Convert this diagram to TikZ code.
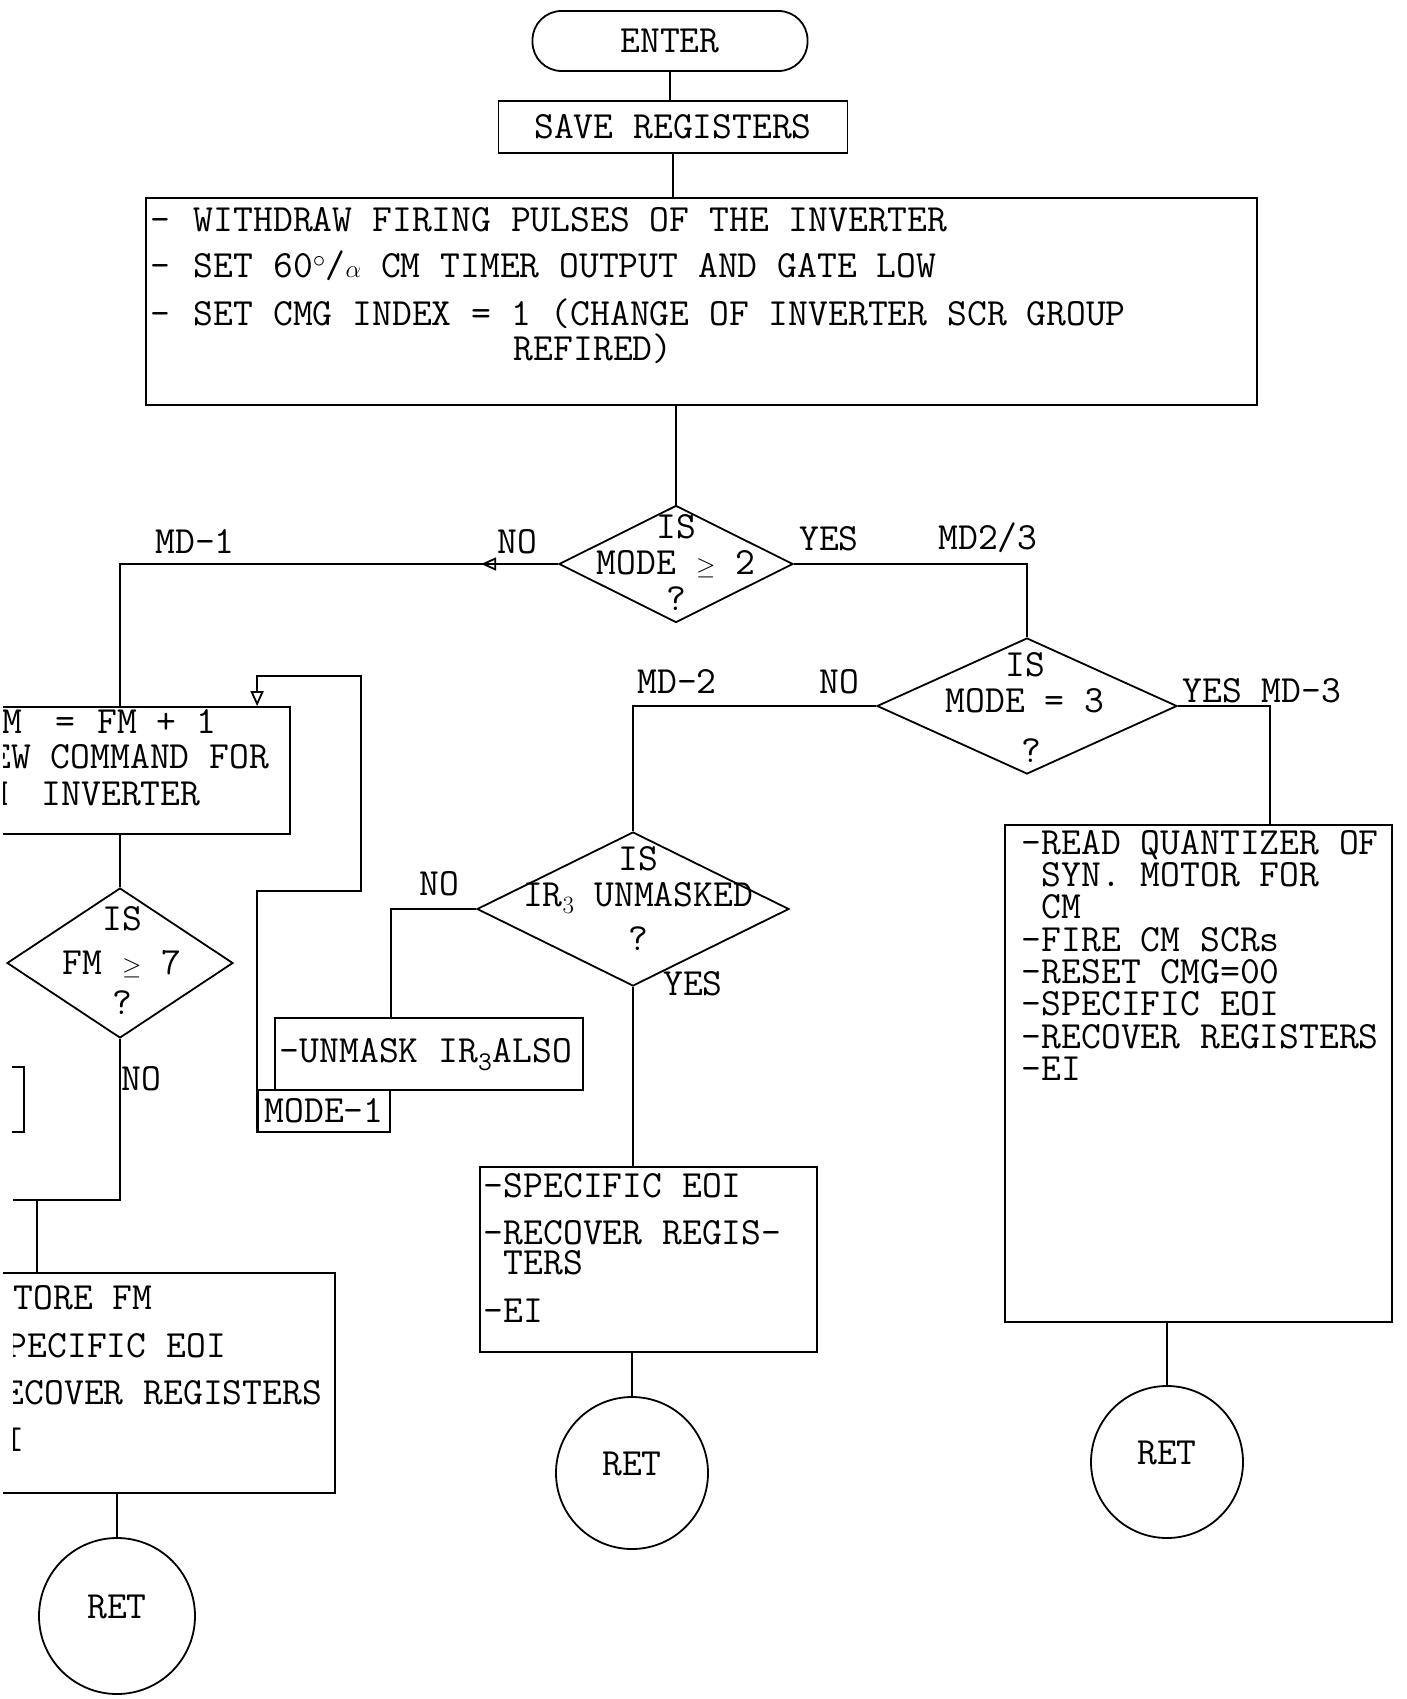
\documentclass[tikz,border=0pt]{standalone}
\usetikzlibrary{arrows.meta, calc, positioning, shapes.geometric, decorations.markings}
\newcommand{\twfont}{\ttfamily\fontsize{38.5}{36}\selectfont}
\tikzset{
  procbox/.style={draw, rectangle, inner sep=0pt, font=\twfont},
  decision/.style={draw, diamond, inner sep=0pt},
  retnode/.style={draw, circle, inner sep=0pt, minimum size=152pt, text depth=18pt, font=\twfont},
  tw/.style={font=\twfont, inner sep=0pt, anchor=base west},
  lbl/.style={font=\twfont, inner sep=0pt, align=center},
  backarrow/.style={postaction={decorate},
    decoration={markings, mark=at position #1 with {\arrow{>}}}},
}

\begin{document}
\begin{tikzpicture}[x=1pt, y=-1pt, line width=1.8pt, >={Triangle[open, length=15pt, width=13pt]}]
  \useasboundingbox (0,0) rectangle (1407,1699);
  \clip (3,0) rectangle (1407,1699);

  % entry and common part
  \node[procbox, rounded corners=29pt, minimum width=275pt, minimum height=60pt] (enter) at (670,41) {ENTER};
  \node[procbox, minimum width=349pt, minimum height=52pt] (save) at (673,127) {SAVE REGISTERS};
  \node[procbox, minimum width=1111pt, minimum height=207pt] (inhibit) at (701.5,301.5) {};
  \foreach \y/\txt [count=\i] in {231/{WITHDRAW FIRING PULSES OF THE INVERTER},
                                  277/{SET 60$^{\circ}$/$\alpha$ CM TIMER OUTPUT AND GATE LOW},
                                  325/{SET CMG INDEX = 1 (CHANGE OF INVERTER SCR GROUP}} {
    \node[tw] (dash\i) at (150,\y) {-};
    \node[tw] (top\i) at (193,\y) {\txt};
  }
  \node[tw] (top4) at (513,360) {REFIRED)};

  % decisions
  \node[decision, minimum width=234pt, minimum height=117pt] (mode2) at (676,564) {};
  \node[lbl] (mode2txt) at (676,563) {IS\\MODE $\geq$ 2\\?};
  \node[decision, minimum width=300pt, minimum height=136pt] (mode3) at (1027,706) {};
  \node[lbl] (mode3txt) at (1025,707) {IS\\MODE = 3\\[14pt]\hspace{12pt}?};
  \node[decision, minimum width=312pt, minimum height=154pt] (irq) at (633,909) {};
  \node[lbl] (irqtxt) at (638,898) {IS\\IR$_3$ UNMASKED\\[8pt]?};
  \node[decision, minimum width=226pt, minimum height=150pt] (fmtest) at (120,963) {};
  \node[lbl] (fmtxt) at (122,960) {IS\\[8pt]FM $\geq$ 7\\[4pt]?};

  % mode 1 branch
  \node[procbox, minimum width=340pt, minimum height=127pt] (fmbox) at (120,770.5) {};
  \node[tw] (fm1) at (-18.5,733) {FM\hspace{33pt}=\hspace{22.5pt}FM + 1};
  \node[tw] (fm2) at (-9.5,768) {EW COMMAND FOR};
  \node[tw] (fm3) at (-12,805) {M\hspace{33pt}INVERTER};
  \node[procbox, minimum width=308pt, minimum height=72pt] (unmask) at (429,1054) {};
  \node[tw] (unmasktxt) at (279,1062) {-UNMASK~IR\textsubscript{3}ALSO};
  \node[procbox, minimum width=132pt, minimum height=42pt] (mode1) at (324,1111) {MODE-1};
  \node[procbox, minimum width=375pt, minimum height=220pt] (md1box) at (147.5,1383) {};
  \begin{scope}
    \clip (13,1273) rectangle (340,1493);
    \node[tw] (md1a) at (-7,1309) {STORE FM};
    \node[tw] (md1b) at (-13,1357) {SPECIFIC EOI};
    \node[tw] (md1c) at (-16,1404) {RECOVER REGISTERS};
    \node[tw] (md1d) at (-16,1451) {EI};
  \end{scope}
  \node[retnode, minimum size=156pt] (ret1) at (117,1616) {RET};

  % mode 2 and mode 3 branches
  \node[procbox, minimum width=337pt, minimum height=185pt] (md2box) at (648.5,1259.5) {};
  \foreach \y/\txt [count=\i] in {1197/-SPECIFIC EOI, 1244/-RECOVER REGIS-,
                                  1274/\phantom{-}TERS, 1322/-EI}
    \node[tw] (md2txt\i) at (483,\y) {\txt};
  \node[retnode] (ret2) at (632,1473) {RET};
  \node[procbox, minimum width=387pt, minimum height=497pt] (md3box) at (1198.5,1073.5) {};
  \foreach \txt [count=\i] in {-READ QUANTIZER OF, \phantom{-}SYN. MOTOR FOR, \phantom{-}CM,
                               -FIRE CM SCRs, -RESET CMG=00, -SPECIFIC EOI,
                               -RECOVER REGISTERS, -EI}
    \node[tw] (md3txt\i) at (1021,{822+32.3*\i}) {\txt};
  \node[retnode] (ret3) at (1167,1462) {RET};

  % branch labels
  \foreach \x/\y/\t [count=\i] in {195/542/MD-1, 517/542/NO, 829/539/YES, 988/538/{MD2/3},
                                   677/682/MD-2, 839/682/NO, 1262/691/YES MD-3,
                                   439/884/NO, 693/984/YES, 141/1079/NO}
    \node[lbl] (lab\i) at (\x,\y) {\t};

  % connectors
  \draw (enter.south) -- (enter.south |- save.north);
  \draw (save.south) -- (save.south |- inhibit.north);
  \draw (mode2.north |- inhibit.south) -- (mode2.north);
  \draw[backarrow=77pt] (mode2.west) -| (fmbox.north);
  \draw (mode2.east) -| (mode3.north);
  \draw (mode3.west) -| (irq.north);
  \draw (mode3.east) -| ([xshift=71.5pt]md3box.north);
  \draw (irq.west) -| (unmask.north -| mode1.east);
  \draw (irq.south) -- (irq.south |- md2box.north);
  \draw (ret2.north |- md2box.south) -- (ret2.north);
  \draw (ret3.north |- md3box.south) -- (ret3.north);
  \draw (fmbox.south) -- (fmtest.north);
  \draw[->] (mode1.south west) -- ++(0,-242) -- ++(104,0) -- ++(0,-215) -- ++(-104,0)
    -- (mode1.west |- fmbox.north);
  \coordinate (join) at (13,1200);
  \coordinate (drop) at (37,1200);
  \draw (fmtest.south) |- (join);
  \draw (drop) -- (drop |- md1box.north);
  \draw (ret1.north |- md1box.south) -- (ret1.north);
  \draw (12,1067) -- (24,1067) -- (24,1132) -- (12,1132);
\end{tikzpicture}
\end{document}
